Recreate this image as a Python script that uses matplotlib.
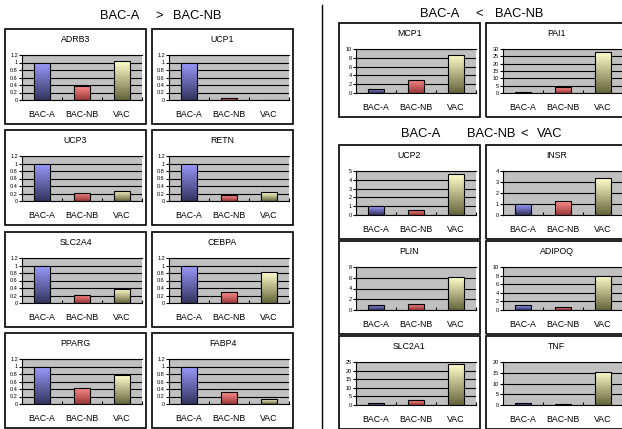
import numpy as np
import matplotlib.pyplot as plt
from matplotlib.colors import LinearSegmentedColormap
from matplotlib.patches import Rectangle
from matplotlib.lines import Line2D

plt.rcParams['font.family'] = ['Liberation Sans', 'DejaVu Sans']

# tamaño de la figura en pixeles
W, H = 622, 429

grupos = ['BAC-A', 'BAC-NB', 'VAC']

# expresion relativa (BAC-A = 1)
adrb3 = [1.0, 0.37, 1.03]
ucp1 = [1.0, 0.05, 0.01]
ucp3 = [1.0, 0.22, 0.27]
retn = [1.0, 0.16, 0.24]
slc2a4 = [1.0, 0.22, 0.37]
cebpa = [1.0, 0.29, 0.82]
pparg = [1.0, 0.44, 0.77]
fabp4 = [1.0, 0.31, 0.13]

mcp1 = [0.96, 2.96, 8.75]
pai1 = [0.8, 4.0, 27.8]
ucp2 = [1.0, 0.6, 4.65]
insr = [1.0, 1.24, 3.33]
plin = [1.0, 1.2, 6.1]
adipoq = [1.1, 0.7, 8.0]
slc2a1 = [1.0, 2.7, 23.7]
tnf = [1.0, 0.6, 15.4]

# colores del degradado de cada grupo (arriba, abajo)
colores = [('#9c9cff', '#33335f'), ('#ff8c8c', '#9a3838'), ('#ffffcc', '#65653c')]

# (gen, valores, maximo eje y, paso, x caja, y caja, alto caja)
paneles = [
    ('ADRB3', adrb3, 1.2, 0.2, 5, 29, 95),
    ('UCP1', ucp1, 1.2, 0.2, 152, 29, 95),
    ('UCP3', ucp3, 1.2, 0.2, 5, 130, 95),
    ('RETN', retn, 1.2, 0.2, 152, 130, 95),
    ('SLC2A4', slc2a4, 1.2, 0.2, 5, 232, 95),
    ('CEBPA', cebpa, 1.2, 0.2, 152, 232, 95),
    ('PPARG', pparg, 1.2, 0.2, 5, 333, 95),
    ('FABP4', fabp4, 1.2, 0.2, 152, 333, 95),
    ('MCP1', mcp1, 10, 2, 339, 23, 94),
    ('PAI1', pai1, 30, 5, 486, 23, 94),
    ('UCP2', ucp2, 5, 1, 339, 145, 94),
    ('INSR', insr, 4, 1, 486, 145, 94),
    ('PLIN', plin, 8, 2, 339, 241, 93),
    ('ADIPOQ', adipoq, 10, 2, 486, 241, 93),
    ('SLC2A1', slc2a1, 25, 5, 339, 336, 93),
    ('TNF', tnf, 20, 5, 486, 336, 93),
]


def fx(x):
    return x / W


def fy(y):
    return 1 - y / H


def barra(ax, x, h, arriba, abajo):
    b = ax.bar(x, h, width=0.42, facecolor='none', edgecolor='black',
               linewidth=0.8, zorder=3)[0]
    cmap = LinearSegmentedColormap.from_list('grad', [abajo, arriba])
    im = ax.imshow(np.linspace(0, 1, 100).reshape(-1, 1), cmap=cmap, origin='lower',
                   extent=(x - 0.21, x + 0.21, 0, h), aspect='auto', zorder=2,
                   interpolation='bilinear')
    im.set_clip_path(b)


fig = plt.figure(figsize=(W / 100, H / 100), dpi=100)

for gen, valores, ymax, paso, bx, by, bh in paneles:
    bw = 141
    # marco del panel
    fig.patches.append(Rectangle((fx(bx), fy(by + bh)), bw / W, bh / H,
                                 transform=fig.transFigure, fill=False,
                                 edgecolor='black', linewidth=1.2))
    fig.text(fx(bx + bw / 2), fy(by + 10.5), gen, ha='center', va='center', fontsize=6.3)

    izq = bx + 17
    der = bx + bw - 4
    arr = by + 26
    aba = by + bh - 24
    ax = fig.add_axes([fx(izq), fy(aba), (der - izq) / W, (aba - arr) / H])
    ax.set_facecolor('#c0c0c0')
    ax.set_axisbelow(True)

    for i, v in enumerate(valores):
        barra(ax, i, v, *colores[i])

    ax.set_xlim(-0.5, 2.5)
    ax.set_ylim(0, ymax)
    yt = np.arange(0, ymax + paso / 2, paso)
    ax.set_yticks(yt)
    ax.set_yticklabels([f'{round(t, 1):g}' for t in yt])
    ax.set_xticks(range(3))
    ax.set_xticklabels(grupos)
    ax.set_xticks([0.5, 1.5, 2.5], minor=True)
    ax.yaxis.grid(True, color='black', linewidth=0.8)
    ax.tick_params(axis='y', labelsize=4, length=2, width=0.8, pad=1)
    ax.tick_params(axis='x', which='major', labelsize=6.3, length=0, pad=7)
    ax.tick_params(axis='x', which='minor', direction='in', length=2.2, width=0.8)
    for lado in ['left', 'bottom', 'top']:
        ax.spines[lado].set_color('black')
        ax.spines[lado].set_linewidth(0.8)
    ax.spines['right'].set_visible(False)

# titulos de cada grupo
encabezados = [
    ('BAC-A', 100, 16), ('>', 155, 16), ('BAC-NB', 173, 16),
    ('BAC-A', 420, 14), ('<', 475, 14), ('BAC-NB', 495, 14),
    ('BAC-A', 401, 134), ('BAC-NB', 467, 134), ('<', 520, 134), ('VAC', 537, 134),
]
for texto, x, y in encabezados:
    fig.text(fx(x), fy(y), texto, ha='left', va='center', fontsize=9.3)

# linea que separa las dos columnas
fig.add_artist(Line2D([fx(322), fx(322)], [fy(5), fy(429)], color='black',
                      linewidth=1.0, transform=fig.transFigure))

fig.savefig('out.png', dpi=100)
